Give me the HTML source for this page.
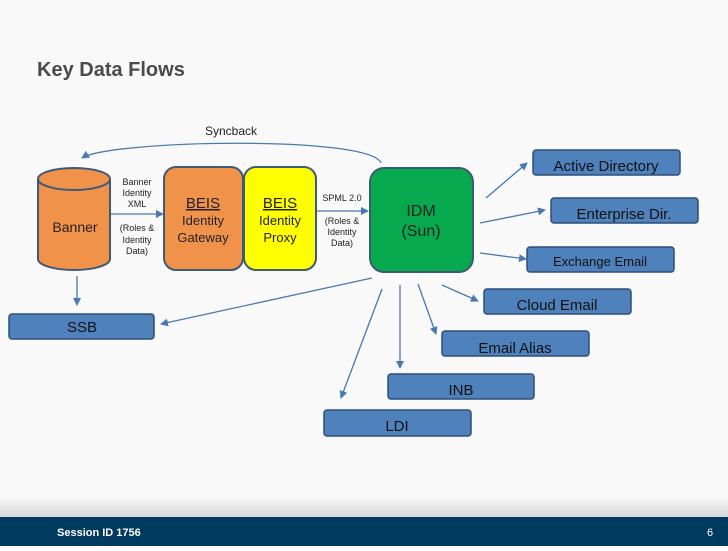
<!DOCTYPE html>
<html><head><style>
body{margin:0;width:728px;height:546px;overflow:hidden;background:#fff;font-family:"Liberation Sans",sans-serif}
</style></head><body>
<svg width="728" height="546" xmlns="http://www.w3.org/2000/svg" font-family="Liberation Sans, sans-serif">
<defs><marker id="a" markerWidth="8" markerHeight="8" refX="7" refY="4" orient="auto" markerUnits="userSpaceOnUse"><path d="M0,0 L8,4 L0,8 z" fill="#4a78b0"/></marker>
<linearGradient id="g" x1="0" y1="0" x2="0" y2="1"><stop offset="0" stop-color="#f6f6f6"/><stop offset="1" stop-color="#d8d8d8"/></linearGradient></defs>
<rect width="728" height="546" fill="#f9f9f9"/>
<rect x="0" y="498" width="728" height="19" fill="url(#g)"/>
<text x="37" y="76" font-size="20" font-weight="bold" fill="#4a4a4a">Key Data Flows</text>
<text x="205" y="135" font-size="12" fill="#222">Syncback</text>
<path d="M381,163 C370,135 110,140 82,158" fill="none" stroke="#4a78b0" stroke-width="1.3" marker-end="url(#a)"/>
<path d="M38,179 L38,259 A36,11 0 0 0 110,259 L110,179" fill="#f0924a" stroke="#3d5a78" stroke-width="2"/>
<ellipse cx="74" cy="179" rx="36" ry="11" fill="#f0924a" stroke="#3d5a78" stroke-width="2"/>
<text x="75" y="232" font-size="14" text-anchor="middle" fill="#222">Banner</text>
<g font-size="9" fill="#222" text-anchor="middle">
<text x="137" y="185">Banner</text><text x="137" y="196">Identity</text><text x="137" y="207">XML</text>
<text x="137" y="231">(Roles &amp;</text><text x="137" y="243">Identity</text><text x="137" y="254">Data)</text>
<text x="342" y="201">SPML 2.0</text>
<text x="342" y="224">(Roles &amp;</text><text x="342" y="235">Identity</text><text x="342" y="246">Data)</text>
</g>
<line x1="111" y1="214" x2="163" y2="214" stroke="#4a78b0" stroke-width="1.3" marker-end="url(#a)"/>
<line x1="317" y1="211" x2="368" y2="211" stroke="#4a78b0" stroke-width="1.3" marker-end="url(#a)"/>
<rect x="164" y="167" width="79" height="103" rx="12" fill="#f0924a" stroke="#3d5a78" stroke-width="2"/>
<rect x="244" y="167" width="72" height="103" rx="12" fill="#ffff00" stroke="#3d5a78" stroke-width="2"/>
<g text-anchor="middle" fill="#222">
<text x="203" y="208" font-size="15" text-decoration="underline">BEIS</text>
<text x="203" y="225" font-size="13">Identity</text><text x="203" y="242" font-size="13">Gateway</text>
<text x="280" y="208" font-size="15" text-decoration="underline">BEIS</text>
<text x="280" y="225" font-size="13">Identity</text><text x="280" y="242" font-size="13">Proxy</text>
</g>
<rect x="370" y="168" width="103" height="104" rx="14" fill="#06a94d" stroke="#3d5a78" stroke-width="2"/>
<text x="421" y="216" font-size="16" text-anchor="middle" fill="#222">IDM</text>
<text x="421" y="236" font-size="16" text-anchor="middle" fill="#222">(Sun)</text>
<g stroke="#4a78b0" stroke-width="1.3" marker-end="url(#a)">
<line x1="486" y1="198" x2="527" y2="163"/>
<line x1="480" y1="223" x2="545" y2="210"/>
<line x1="480" y1="253" x2="526" y2="259"/>
<line x1="442" y1="285" x2="478" y2="301"/>
<line x1="418" y1="284" x2="436" y2="334"/>
<line x1="400" y1="285" x2="400" y2="368"/>
<line x1="382" y1="289" x2="341" y2="398"/>
<line x1="372" y1="278" x2="161" y2="324"/>
<line x1="77" y1="276" x2="77" y2="305"/>
</g>
<g fill="#4f81bd" stroke="#2f4f78" stroke-width="1.5">
<rect x="533" y="150" width="147" height="25" rx="3"/>
<rect x="551" y="198" width="147" height="25" rx="3"/>
<rect x="527" y="247" width="147" height="25" rx="3"/>
<rect x="484" y="289" width="147" height="25" rx="3"/>
<rect x="442" y="331" width="147" height="25" rx="3"/>
<rect x="388" y="374" width="146" height="25" rx="3"/>
<rect x="324" y="410" width="147" height="26" rx="3"/>
<rect x="9" y="314" width="145" height="25" rx="3"/>
</g>
<g font-size="15" fill="#111" text-anchor="middle">
<text x="606" y="171">Active Directory</text>
<text x="624" y="219">Enterprise Dir.</text>
<text x="600" y="266" font-size="13">Exchange Email</text>
<text x="557" y="310">Cloud Email</text>
<text x="515" y="353">Email Alias</text>
<text x="461" y="395">INB</text>
<text x="397" y="431">LDI</text>
<text x="82" y="332">SSB</text>
</g>
<rect x="0" y="517" width="728" height="29" fill="#003a5e"/>
<text x="57" y="536" font-size="11" font-weight="bold" fill="#fff">Session ID 1756</text>
<text x="707" y="536" font-size="11" fill="#fff">6</text>
</svg>
</body></html>
